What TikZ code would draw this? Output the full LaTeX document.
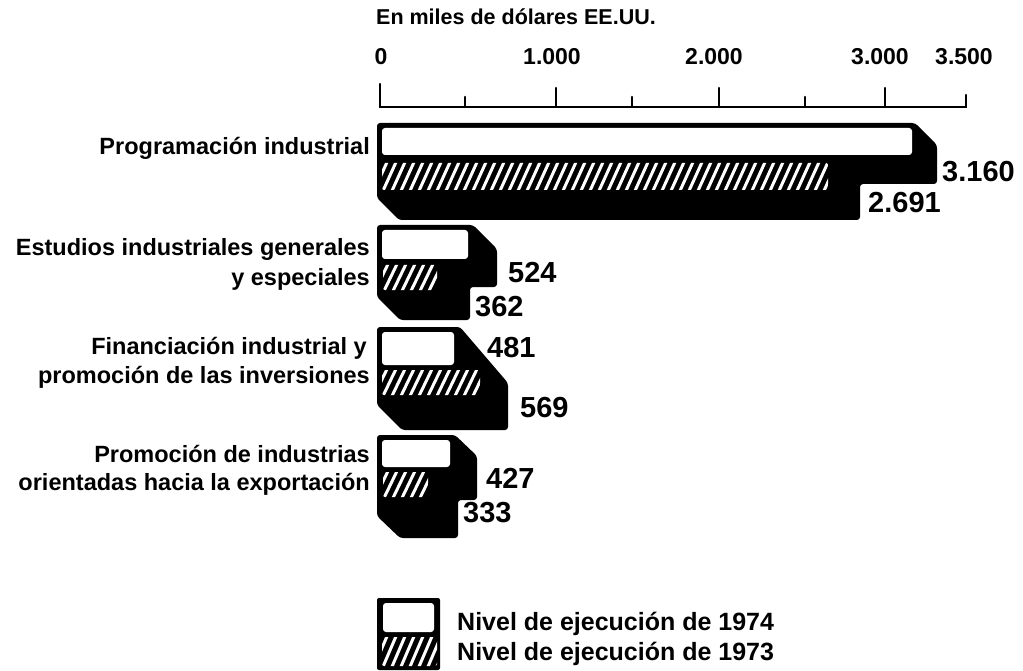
\documentclass[tikz,border=0pt]{standalone}
\usepackage{fontspec}
\setmainfont{Liberation Sans}
\newcommand{\hatchrect}[4]{%
  \begin{scope}
    \clip[rounded corners=2] (#1,#2) rectangle (#3,#4);
    \fill[black] (#1,#2) rectangle (#3,#4);
    \foreach \k in {-3,...,52}{\draw[white,line width=3] (#1+\k*9,#4+3) -- (#1+\k*9+15,#2-3);}
  \end{scope}}
\tikzset{
  shadow/.style={fill=black,rounded corners=3},
  bar/.style={fill=white,rounded corners=3},
  lbl/.style={anchor=base east,inner sep=0,font=\fontsize{23.5}{29}\selectfont\bfseries},
  num/.style={anchor=west,inner sep=0,font=\fontsize{29}{32}\selectfont\bfseries},
  axnum/.style={anchor=center,inner sep=0,font=\fontsize{23}{26}\selectfont\bfseries},
  leg/.style={anchor=base west,inner sep=0,font=\fontsize{25}{30}\selectfont\bfseries},
  axis/.style={line width=2.5,line cap=round}
}
\begin{document}
\begin{tikzpicture}[x=1pt,y=-1pt]
\useasboundingbox[fill=white] (0,0) rectangle (1023,671);
% axis
\node[anchor=base west,inner sep=0,font=\fontsize{21.5}{25}\selectfont\bfseries] (unit) at (376,25) {En miles de dólares EE.UU.};
\node[axnum] (t0) at (381,57) {0};
\node[axnum] (t1) at (552,57) {1.000};
\node[axnum] (t2) at (714,57) {2.000};
\node[axnum] (t3) at (880,57) {3.000};
\node[axnum] (t4) at (964,57) {3.500};
\coordinate (a0) at (380,84);
\coordinate (a1) at (966,95);
\draw[axis] (a0) -- (380,107) -- (966,107) -- (a1);
\foreach \x in {556,719,885}{\draw[axis] (\x,88) -- (\x,107);}
\foreach \x in {465,632,805}{\draw[axis] (\x,97) -- (\x,107);}
% block 1
\fill[shadow] (377,123) -- (915,123) -- (937,145) -- (937,184) -- (860,184) -- (860,220) -- (399,220) -- (377,198) -- cycle;
\fill[bar] (382,128) rectangle (912,155);
\hatchrect{382}{163}{828}{190}
% block 2
\fill[shadow] (377,225) -- (473,225) -- (497,249) -- (497,287) -- (470,287) -- (470,320) -- (400,320) -- (377,297) -- cycle;
\fill[bar] (382,230) rectangle (468,259);
\hatchrect{383}{265}{437}{290}
% block 3
\fill[shadow] (377,327) -- (460,327) -- (508,383) -- (508,430) -- (402,430) -- (377,405) -- cycle;
\fill[bar] (382,332) rectangle (454,365);
\hatchrect{382}{370}{480}{395}
% block 4
\fill[shadow] (377,435) -- (455,435) -- (477,456) -- (477,500) -- (458,500) -- (458,538) -- (400,538) -- (377,516) -- cycle;
\fill[bar] (382,440) rectangle (450,467);
\hatchrect{383}{472}{428}{497}
% labels
\node[lbl] (l1) at (370,155) {Programación industrial};
\node[lbl] (l2a) at (370,255) {Estudios industriales generales};
\node[lbl] (l2b) at (370,285) {y especiales};
\node[lbl] (l3a) at (367,354) {Financiación industrial y};
\node[lbl] (l3b) at (370,383) {promoción de las inversiones};
\node[lbl] (l4a) at (370,462) {Promoción de industrias};
\node[lbl] (l4b) at (370,490) {orientadas hacia la exportación};
% values
\node[num] (v1a) at (942,172) {3.160};
\node[num] (v1b) at (868,203) {2.691};
\node[num] (v2a) at (508,273) {524};
\node[num] (v2b) at (475,307) {362};
\node[num] (v3a) at (487,348) {481};
\node[num] (v3b) at (520,408) {569};
\node[num] (v4a) at (486,478) {427};
\node[num] (v4b) at (463,513) {333};
% legend
\fill[black,rounded corners=2] (377,598) rectangle (440,670);
\fill[bar] (383,603) rectangle (434,632);
\hatchrect{382}{637}{437}{666}
\node[leg] (g1) at (457,630) {Nivel de ejecución de 1974};
\node[leg] (g2) at (457,660) {Nivel de ejecución de 1973};
\end{tikzpicture}
\end{document}
